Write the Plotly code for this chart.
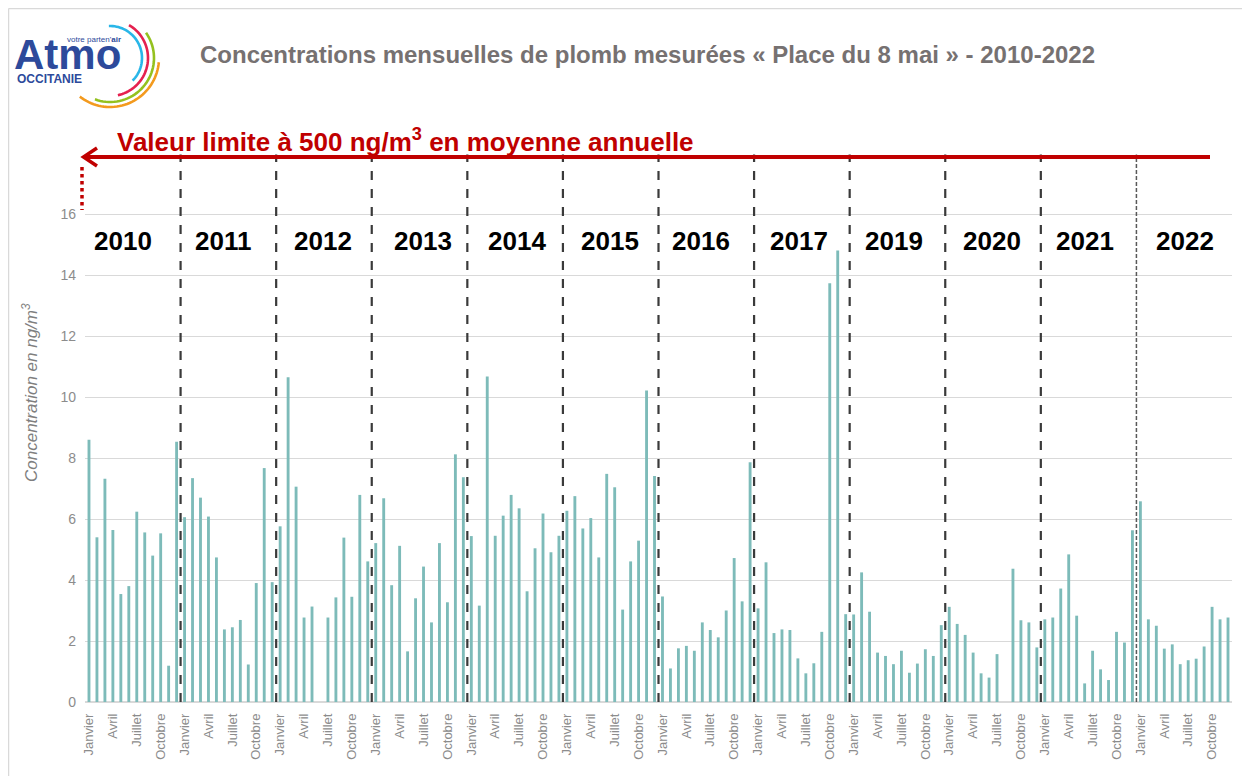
import math
import plotly.graph_objects as go

# ---------------- data ----------------
years = ["2010", "2011", "2012", "2013", "2014", "2015", "2016", "2017",
         "2019", "2020", "2021", "2022"]
months = ["Janvier", "Février", "Mars", "Avril", "Mai", "Juin", "Juillet",
          "Août", "Septembre", "Octobre", "Novembre", "Décembre"]
labelled_months = ["Janvier", "Avril", "Juillet", "Octobre"]

v2010 = [8.60, 5.40, 7.32, 5.64, 3.54, 3.80, 6.24, 5.56, 4.80, 5.53, 1.19, 8.53]
v2011 = [6.06, 7.34, 6.70, 6.08, 4.74, 2.38, 2.45, 2.69, 1.23, 3.90, 7.67, 3.93]
v2012 = [5.76, 10.65, 7.06, 2.77, 3.13, None, 2.77, 3.43, 5.39, 3.45, 6.79, 4.61]
v2013 = [5.21, 6.68, 3.83, 5.12, 1.66, 3.40, 4.44, 2.61, 5.21, 3.27, 8.12, 7.37]
v2014 = [5.44, 3.16, 10.67, 5.45, 6.11, 6.79, 6.35, 3.63, 5.04, 6.18, 4.91, 5.45]
v2015 = [6.27, 6.75, 5.69, 6.03, 4.74, 7.48, 7.04, 3.03, 4.61, 5.29, 10.21, 7.41]
v2016 = [3.46, 1.10, 1.76, 1.84, 1.68, 2.61, 2.36, 2.12, 3.00, 4.72, 3.30, 7.86]
v2017 = [3.07, 4.58, 2.26, 2.38, 2.36, 1.43, 0.94, 1.27, 2.30, 13.73, 14.80, 2.88]
v2019 = [2.87, 4.25, 2.96, 1.62, 1.51, 1.24, 1.68, 0.96, 1.26, 1.73, 1.51, 2.52]
v2020 = [3.12, 2.56, 2.20, 1.62, 0.94, 0.80, 1.57, None, 4.37, 2.68, 2.61, 1.79]
v2021 = [2.71, 2.77, 3.72, 4.84, 2.83, 0.61, 1.68, 1.07, 0.72, 2.30, 1.95, 5.63]
v2022 = [6.58, 2.71, 2.50, 1.75, 1.89, 1.24, 1.37, 1.42, 1.82, 3.12, 2.71, 2.77]

series = [v2010, v2011, v2012, v2013, v2014, v2015, v2016, v2017,
          v2019, v2020, v2021, v2022]

y_ticks = [0, 2, 4, 6, 8, 10, 12, 14, 16]
limit_text = "Valeur limite à 500 ng/m<sup>3</sup> en moyenne annuelle"
title_text = "Concentrations mensuelles de plomb mesurées « Place du 8 mai » - 2010-2022"
y_title = "Concentration en ng/m<sup>3</sup>"

# ---------------- layout constants ----------------
W, H = 1250, 776
OFF = 8  # page body margin
ML, MR, MT, MB = 77, 26, 145, 82
PW, PH = W - ML - MR, H - MT - MB
# horizontal centres (page px) of the year labels as placed in the original
year_label_px = [123, 223, 323, 423, 517, 610, 701, 799, 894, 992, 1085, 1185]


def px(x):
    """page pixel x -> paper"""
    return (x - OFF - ML) / PW


def py(y):
    """page pixel y -> paper"""
    return (H - MB - (y - OFF)) / PH


FONT = "Liberation Sans, Arial, sans-serif"

# ---------------- build ----------------
values = [v for s in series for v in s]
xs = list(range(len(values)))
month_of = [months[i % 12] for i in xs]
tickvals = [i for i in xs if month_of[i] in labelled_months]
ticktext = [month_of[i] for i in tickvals]

fig = go.Figure()
fig.add_trace(go.Bar(x=xs, y=values, marker_color="#7dbbb9",
                     marker_line_width=0, showlegend=False))

shapes = []
annotations = []

# year separators (between categories)
n_years = len(years)
for k in range(1, n_years):
    last = (k == n_years - 1)
    shapes.append(dict(type="line", xref="x", yref="y",
                       x0=12 * k - 0.5, x1=12 * k - 0.5, y0=0, y1=17.95,
                       line=dict(color="#595959" if last else "#3a3a3a",
                                 width=1.5 if last else 2.2,
                                 dash="4px,2px" if last else "dash"),
                       layer="above"))

# year labels
for k, yr in enumerate(years):
    annotations.append(dict(x=px(year_label_px[k]), y=15.1, xref="paper", yref="y",
                            xanchor="center", yanchor="middle",
                            text="<b>%s</b>" % yr, showarrow=False,
                            font=dict(family=FONT, size=26, color="#000000")))

# red limit line with arrow
red = "#c00000"
shapes.append(dict(type="line", xref="paper", yref="paper",
                   x0=px(84), x1=px(1210), y0=py(157), y1=py(157),
                   line=dict(color=red, width=4)))
shapes.append(dict(type="path", xref="paper", yref="paper",
                   path="M%f,%f L%f,%f L%f,%f" % (px(97), py(148), px(83.5), py(157),
                                                  px(97), py(166)),
                   line=dict(color=red, width=3.5)))
shapes.append(dict(type="line", xref="paper", yref="paper",
                   x0=px(82), x1=px(82), y0=py(167), y1=py(210),
                   line=dict(color=red, width=3.5, dash="dot")))
annotations.append(dict(x=px(115), y=py(140), xref="paper", yref="paper",
                        xanchor="left", yanchor="middle", showarrow=False,
                        text="<b>%s</b>" % limit_text,
                        font=dict(family=FONT, size=26, color=red)))

# title
annotations.append(dict(x=px(647), y=py(55), xref="paper", yref="paper",
                        xanchor="center", yanchor="middle", showarrow=False,
                        text="<b>%s</b>" % title_text,
                        font=dict(family=FONT, size=24, color="#767171")))

# y-axis title
annotations.append(dict(x=px(30), y=py(393), xref="paper", yref="paper",
                        xanchor="center", yanchor="middle", showarrow=False,
                        textangle=-90, text="<i>%s</i>" % y_title,
                        font=dict(family=FONT, size=17, color="#7f7f7f")))

# frame (top & left edges visible)
shapes.append(dict(type="line", xref="paper", yref="paper",
                   x0=px(8.5), x1=px(1258), y0=py(8.5), y1=py(8.5),
                   line=dict(color="#d9d9d9", width=1.5)))
shapes.append(dict(type="line", xref="paper", yref="paper",
                   x0=px(8.5), x1=px(8.5), y0=py(8.5), y1=py(784),
                   line=dict(color="#d9d9d9", width=1.5)))

# logo
blue = "#2d4a9b"
annotations.append(dict(x=px(12), y=py(54), xref="paper", yref="paper",
                        xanchor="left", yanchor="middle", showarrow=False,
                        text="<b>Atmo</b>",
                        font=dict(family=FONT, size=42, color=blue)))
annotations.append(dict(x=px(123), y=py(40), xref="paper", yref="paper",
                        xanchor="right", yanchor="middle", showarrow=False,
                        text="votre parten'<b>air</b>",
                        font=dict(family=FONT, size=8, color=blue)))
annotations.append(dict(x=px(15), y=py(79), xref="paper", yref="paper",
                        xanchor="left", yanchor="middle", showarrow=False,
                        text="<b>OCCITANIE</b>",
                        font=dict(family=FONT, size=12, color=blue)))


def arc(cx, cy, r, a0, a1, n=40):
    pts = []
    for i in range(n + 1):
        a = math.radians(a0 + (a1 - a0) * i / n)
        pts.append((px(cx + r * math.cos(a)), py(cy + r * math.sin(a))))
    return "M" + " L".join("%f,%f" % p for p in pts)


logo_arcs = [(32, -92, 45, "#29b6e8"), (38, -60, 78, "#e5214f"),
             (44, -35, 110, "#94c11f"), (49, 5, 128, "#f39a1e")]
for r, a0, a1, col in logo_arcs:
    shapes.append(dict(type="path", xref="paper", yref="paper",
                       path=arc(110, 58, r, a0, a1),
                       line=dict(color=col, width=2.6)))

fig.update_layout(
    width=W, height=H,
    margin=dict(l=ML, r=MR, t=MT, b=MB, autoexpand=False),
    paper_bgcolor="white", plot_bgcolor="white",
    bargap=0.64,
    shapes=shapes, annotations=annotations,
    xaxis=dict(range=[-0.5, len(values) - 0.5], tickmode="array",
               tickvals=tickvals, ticktext=ticktext, tickangle=-90,
               showgrid=False, zeroline=False, showline=False, ticks="",
               ticklabelstandoff=8,
               tickfont=dict(family=FONT, size=13, color="#8c8c8c")),
    yaxis=dict(range=[0, 18], tickmode="array", tickvals=y_ticks,
               showgrid=True, gridcolor="#d9d9d9", gridwidth=1,
               zeroline=True, zerolinecolor="#d9d9d9", zerolinewidth=2,
               showline=False, ticks="", ticklabelstandoff=8,
               tickfont=dict(family=FONT, size=14, color="#8c8c8c")),
)

fig.write_html("out.html")
